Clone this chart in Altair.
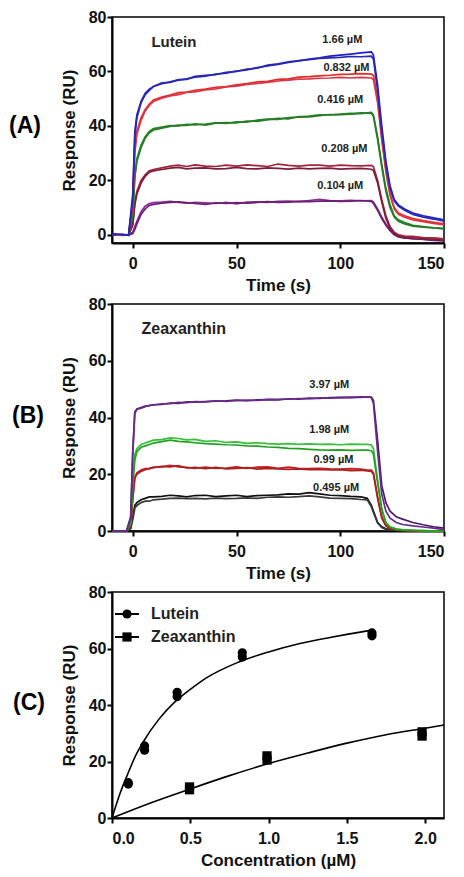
import altair as alt
import pandas as pd

# ---------------- Panel A : Lutein sensorgrams ----------------
T_A = [-10, -5, -2, 0, 1, 2, 4, 6, 8, 10, 14, 18, 22, 26, 30, 35, 40, 45, 50, 55,
       60, 65, 70, 75, 80, 85, 90, 95, 100, 105, 110, 115, 116, 118, 120, 122, 124,
       126, 128, 131, 135, 140, 145, 150]

lut_166_a = [0.5, 0, 0, 15, 38, 44, 49, 52, 53.5, 54.5, 55.5, 56.2, 56.8, 57.3, 57.9,
             58.3, 59, 59.4, 60.1, 60.6, 61.4, 62, 62.6, 63.3, 63.9,
             64.5, 65, 65.6, 66, 66.4, 66.8, 67.2, 66, 55, 40, 27, 18, 13, 11, 9.5,
             8, 7, 6.2, 5.5]
lut_166_b = [0, 0.3, -0.2, 13, 36, 43, 48.5, 51.5, 53, 54.5, 55.8, 56, 57, 57.1, 58.2,
             58.6, 58.8, 59.7, 60, 60.9, 61.2, 62.3, 62.8, 63.5, 64,
             64.3, 64.8, 65, 65.2, 65.5, 65.4, 65.6, 64.5, 53, 38, 26, 17, 12.5, 10.5, 9,
             7.5, 6.5, 5.8, 5]
lut_0832_a = [0, 0, 0, 12, 32, 38, 43, 46, 48, 49.5, 50.6, 51.3, 52.2, 52.4, 53.1,
              53.5, 54.2, 54.4, 55.1, 55.5, 56.2, 56.4, 57.1, 57.3, 57.9,
              58.1, 58.4, 58.6, 58.9, 59, 59.2, 59, 58.5, 50, 36, 24, 15, 10, 8, 7,
              6, 5.2, 4.6, 4]
lut_0832_b = [0.2, -0.2, 0, 11, 30, 37, 42, 45.5, 47.5, 49, 50.2, 51, 51.5, 52.3, 52.5,
              53.2, 53.6, 54.3, 54.6, 55.2, 55.6, 56, 56.5, 56.8, 57.2,
              57.3, 57.5, 57.6, 57.8, 57.6, 57.8, 57.6, 57, 48.5, 35, 23, 14.5, 9.5, 7.5, 6.5,
              5.5, 4.8, 4.2, 3.6]
lut_0416_a = [0, 0, 0, 8, 22, 28, 33, 36, 38, 39, 39.6, 40.1, 40, 40.6, 40.4,
              40.7, 41.1, 40.9, 41.5, 41.4, 42.1, 42.5, 42.4, 43.1, 43.2,
              43.6, 44.1, 44, 44.3, 44.6, 44.5, 45, 44, 36, 26, 17, 11, 7, 5.5, 4.5,
              3.5, 3, 2.6, 2.4]
lut_0416_b = [0, 0, 0, 7, 21, 27, 32, 35.5, 37.5, 38.5, 39.2, 39.8, 40.3, 40.2, 40.8,
              40.3, 41, 41.2, 41.1, 41.8, 41.7, 42.3, 42.8, 42.6, 43.4,
              43.3, 43.8, 44.2, 44.1, 44.3, 44.8, 44.6, 43.5, 35, 25, 16, 10, 6.5, 5, 4,
              3.2, 2.8, 2.5, 2.2]
lut_0208_a = [0, 0, 0, 4, 12, 16, 20, 22, 23.5, 24, 24.6, 25.2, 25.6, 25.1, 25.7,
              25.2, 25.1, 25.6, 25.2, 25.7, 25.4, 25.1, 26, 25.5, 25.2,
              25.6, 25.6, 25.2, 25.6, 25.4, 25.3, 25.5, 25, 20, 13, 7, 3, 1, 0, -0.5,
              -0.6, -1, -1.1, -1.5]
lut_0208_b = [0, 0, 0, 3.5, 11, 15, 19, 21.5, 23, 23.5, 24, 24.5, 24.8, 24.2, 24.5,
              24.6, 24.2, 24.3, 24.8, 24.3, 24.2, 24.6, 24.4, 24.1, 24.5,
              24.2, 24.4, 24.5, 24.1, 24.3, 24.4, 24.1, 23.6, 19, 12, 6, 2.5, 0.5, -0.5, -1,
              -1.2, -1.5, -1.7, -2]
lut_0104_a = [0, 0, 0, 1, 3, 5, 8.5, 10.5, 11.5, 11.8, 12, 12.3, 11.9, 11.6, 11.9,
              11.7, 11.5, 11.9, 11.4, 12, 12.1, 11.9, 12.3, 12.4, 12.2,
              12.6, 13, 12.6, 12.5, 12.7, 12.5, 12.6, 12, 9.5, 6.5, 4, 2, 0.5, -0.5, -1,
              -1.5, -1.6, -1.9, -2]
lut_0104_b = [0, 0, 0, 0.5, 2, 4, 7.5, 9.5, 10.8, 11.2, 11.6, 11.9, 12.1, 11.8, 11.5,
              11.2, 11.7, 11.5, 11.8, 11.6, 11.9, 12.2, 11.9, 12, 12.3,
              12.2, 12.4, 12.5, 12.3, 12.4, 12.6, 12.3, 11.5, 9, 6, 3.5, 1.5, 0, -0.8, -1.2,
              -1.3, -1.7, -2, -2.2]

traces_A = ["A 0.104a", "A 0.104b", "A 0.208a", "A 0.208b", "A 0.416a", "A 0.416b",
            "A 0.832a", "A 0.832b", "A 1.66a", "A 1.66b"]
series_A = [lut_0104_a, lut_0104_b, lut_0208_a, lut_0208_b, lut_0416_a, lut_0416_b,
            lut_0832_a, lut_0832_b, lut_166_a, lut_166_b]
colors_A = ["#8b2a9a", "#6a1f70", "#a8203f", "#7a1f3a", "#178a22", "#2a7a2a",
            "#e62a22", "#d9364a", "#1c1fd1", "#2a2ab0"]

labels_A = ["1.66 µM", "0.832 µM", "0.416 µM", "0.208 µM", "0.104 µM"]
label_t_A = [101, 103, 100, 102, 100]
label_y_A = [71.5, 61.3, 49.6, 31.7, 17.9]

# ---------------- Panel B : Zeaxanthin sensorgrams ----------------
T_B = [-10, -5, -3, -1, 0, 1, 2, 4, 6, 8, 10, 14, 18, 22, 26, 30, 35, 40, 45, 50,
       55, 60, 65, 70, 75, 80, 85, 90, 95, 100, 105, 110, 113, 115, 116, 118, 120,
       122, 124, 127, 130, 135, 140, 145, 150]

zea_397_a = [0, 0, 0, 5, 28, 42, 43, 43.5, 44, 44.2, 44.5, 44.6, 45.1, 45, 45.5, 45.4,
             45.6, 45.8, 45.9, 46.1, 45.9, 46.2, 46.3, 46.2, 46.6, 46.5,
             46.8, 46.7, 47, 47.1, 47, 47.3, 47.2, 47.2, 46, 32, 16, 10, 7, 5, 4.2,
             3, 2.2, 1.5, 1]
zea_397_b = [0, 0, 0, 4.5, 27, 41.5, 42.8, 43.3, 43.8, 44.3, 44.4, 44.8, 44.9, 45.3, 45.2, 45.6,
             45.5, 45.9, 45.7, 46, 46.1, 46, 46.4, 46.4, 46.5, 46.7,
             46.6, 46.9, 46.8, 47, 47.2, 47.1, 47.3, 47, 45, 28, 13, 7, 4.5, 3, 2.3,
             1.8, 1.4, 1, 0.5]
zea_198_a = [0, 0, 0, 3, 18, 27, 29, 30.5, 31, 31.5, 32, 32.2, 32.8, 32.6, 32.1, 32.3,
             31.6, 31.8, 31.2, 31.4, 30.9, 31.1, 30.8, 30.6, 30.8, 30.5,
             30.7, 30.5, 30.6, 30.4, 30.6, 30.5, 30.5, 30.3, 29, 18, 8, 3, 1.5, 0.8, 0.5,
             0.3, 0.2, 0, 0]
zea_198_b = [0, 0, 0, 2.5, 16, 25, 28, 29.5, 30, 30.5, 31, 31.5, 32, 31.6, 31.4, 31.1,
             30.8, 30.6, 30.4, 30.3, 30, 29.9, 29.6, 29.5, 29.1, 29,
             28.8, 28.6, 28.5, 28.6, 28.4, 28.5, 28.5, 28.3, 27, 17, 7.5, 2.8, 1.3, 0.6, 0.3,
             0.2, 0, 0, 0]
zea_099_a = [0, 0, 0, 2, 12, 19, 20.5, 21.5, 22, 22.1, 22.5, 22.6, 23.1, 22.6, 22.4, 22.1,
             22.5, 22.1, 22.2, 22.6, 22.1, 22.5, 22.6, 22.1, 22.5, 22.1,
             22, 22.1, 21.9, 21.8, 22, 21.8, 21.5, 21.5, 20.5, 12, 5, 2, 1, 0.5, 0.3,
             0, 0, 0, 0]
zea_099_b = [0, 0, 0, 1.8, 11, 18.5, 20, 21, 21.6, 22, 22.3, 22.8, 22.6, 23, 22.2, 22.4,
             22, 22.4, 21.9, 22.1, 22.3, 21.8, 22.1, 21.9, 21.7, 21.9,
             21.6, 21.7, 21.5, 21.6, 21.3, 21.4, 21.2, 21, 20, 11.5, 4.5, 1.8, 0.8, 0.4, 0.2,
             0, 0, 0, 0]
zea_0495_a = [0, 0, 0, 1, 5, 9, 10, 11, 11.5, 12, 12, 12.2, 12.6, 12.4, 12, 12.5,
              12.6, 12.1, 12.4, 12.6, 12.1, 12.5, 12.6, 12.7, 13.1, 13,
              13.5, 13.1, 12.6, 12.5, 12.2, 12, 11.5, 9, 7, 3, 1.5, 0.8, 0.5, 0.3, 0.2,
              0, 0, 0, 0]
zea_0495_b = [0, 0, 0, 0.8, 4, 8, 9, 10, 10.5, 10.5, 11, 11.2, 11.5, 11.6, 11.4, 11.5,
              11.3, 11.6, 11.4, 11.5, 11.7, 11.5, 11.9, 12, 11.9, 12.1,
              12.4, 12, 11.6, 11.5, 11.4, 11.1, 11, 8.5, 6.5, 2.8, 1.2, 0.6, 0.4, 0.2, 0.1,
              0, 0, 0, 0]

traces_B = ["B 0.495a", "B 0.495b", "B 0.99a", "B 0.99b", "B 1.98a", "B 1.98b",
            "B 3.97a", "B 3.97b"]
series_B = [zea_0495_a, zea_0495_b, zea_099_a, zea_099_b, zea_198_a, zea_198_b,
            zea_397_a, zea_397_b]
colors_B = ["#111111", "#3a3a3a", "#c81e1e", "#a82020", "#35c035", "#22a022",
            "#4a1a6e", "#6a2a8a"]

labels_B = ["3.97 µM", "1.98 µM", "0.99 µM", "0.495 µM"]
label_t_B = [94.7, 94.7, 96.7, 98]
label_y_B = [51.3, 35.5, 25, 15.2]

# ---------------- Panel C : dose response ----------------
lut_conc = [0.104, 0.104, 0.208, 0.208, 0.416, 0.416, 0.832, 0.832, 1.66, 1.66]
lut_resp = [12, 12.5, 24, 25.5, 43, 44.5, 57, 58.5, 64.5, 65.5]
zea_conc = [0.495, 0.495, 0.99, 0.99, 1.98, 1.98]
zea_resp = [10, 11, 20.5, 22, 29, 30.5]

lut_fit_x = [0, 0.05, 0.1, 0.15, 0.2, 0.3, 0.4, 0.5, 0.6, 0.8, 1.0, 1.2, 1.4, 1.5, 1.66]
lut_fit_y = [0, 8.5, 15.5, 22, 27, 35, 41, 45.5, 49.5, 55, 58.8, 61.8, 64, 65, 66.5]
zea_fit_x = [0, 0.25, 0.5, 0.75, 1.0, 1.25, 1.5, 1.75, 2.0, 2.12]
zea_fit_y = [0, 5.4, 10.3, 15, 19.3, 23, 26.5, 29.5, 31.8, 32.9]

legend_labels = ["Lutein", "Zeaxanthin"]

# ---------------- build tables ----------------
def long_table(times, names, series):
    rows = []
    for name, vals in zip(names, series):
        assert len(vals) == len(times), (name, len(vals), len(times))
        for t, v in zip(times, vals):
            rows.append({"t": t, "r": v, "trace": name})
    return pd.DataFrame(rows)

dfA = long_table(T_A, traces_A, series_A)
dfB = long_table(T_B, traces_B, series_B)

FONT = "Liberation Sans"
W = 332

def sensorgram(df, names, colors, ydom, h, labels, lt, ly, compound, comp_t, comp_y,
               comp_size, tag, tag_x, tag_y):
    base = alt.Chart(df)
    lines = base.mark_line(strokeWidth=1.7).encode(
        x=alt.X("t:Q", scale=alt.Scale(domain=[-10, 150], nice=False, zero=False),
                axis=alt.Axis(values=[0, 50, 100, 150], title="Time (s)")),
        y=alt.Y("r:Q", scale=alt.Scale(domain=ydom, nice=False, zero=False),
                axis=alt.Axis(values=[0, 20, 40, 60, 80], title="Response (RU)",
                              labelPadding=1, titlePadding=10)),
        color=alt.Color("trace:N", scale=alt.Scale(domain=names, range=colors), legend=None),
        order=alt.Order("t:Q"),
    )
    lab_df = pd.DataFrame({"label": labels, "t": lt, "r": ly})
    labs = alt.Chart(lab_df).mark_text(font=FONT, fontSize=11, fontWeight="bold",
                                       color="#222222", align="center", baseline="middle").encode(
        x="t:Q", y="r:Q", text="label:N")
    comp_df = pd.DataFrame({"label": [compound], "t": [comp_t], "r": [comp_y]})
    comp = alt.Chart(comp_df).mark_text(font=FONT, fontSize=comp_size, fontWeight="bold",
                                        color="#222222", align="left", baseline="middle").encode(
        x="t:Q", y="r:Q", text="label:N")
    tag_df = pd.DataFrame({"label": [tag]})
    tagm = alt.Chart(tag_df).mark_text(font=FONT, fontSize=23, fontWeight="bold",
                                       color="black", align="left", baseline="middle").encode(
        x=alt.value(tag_x), y=alt.value(tag_y), text="label:N")
    return alt.layer(lines, labs, comp, tagm).properties(width=W, height=h)

panelA = sensorgram(dfA, traces_A, colors_A, [-3, 80], 226, labels_A, label_t_A, label_y_A,
                    "Lutein", 9, 71, 15, "(A)", -103, 109)
panelB = sensorgram(dfB, traces_B, colors_B, [0, 80], 227, labels_B, label_t_B, label_y_B,
                    "Zeaxanthin", 4.2, 71.2, 16, "(B)", -100, 112)

# Panel C
pts = pd.DataFrame({
    "c": lut_conc + zea_conc,
    "r": lut_resp + zea_resp,
    "cmp": ["Lutein"] * len(lut_conc) + ["Zeaxanthin"] * len(zea_conc),
})
fit = pd.DataFrame({
    "c": lut_fit_x + zea_fit_x,
    "r": lut_fit_y + zea_fit_y,
    "cmp": ["Lutein"] * len(lut_fit_x) + ["Zeaxanthin"] * len(zea_fit_x),
})
xC = alt.X("c:Q", scale=alt.Scale(domain=[0, 2.12], nice=False, zero=False),
           axis=alt.Axis(values=[0, 0.5, 1.0, 1.5, 2.0], format=".1f",
                         title="Concentration (µM)"))
yC = alt.Y("r:Q", scale=alt.Scale(domain=[0, 80], nice=False),
           axis=alt.Axis(values=[0, 20, 40, 60, 80], title="Response (RU)",
                         labelPadding=1, titlePadding=10))
fit_lines = alt.Chart(fit).mark_line(color="black", strokeWidth=1.6, interpolate="monotone").encode(
    x=xC, y=yC, detail="cmp:N", order=alt.Order("c:Q"))
points = alt.Chart(pts).mark_point(filled=True, color="black", opacity=1, size=85).encode(
    x=xC, y=yC,
    shape=alt.Shape("cmp:N", scale=alt.Scale(domain=legend_labels, range=["circle", "square"]),
                    legend=None))

leg_layers = []
leg_y = [22, 45]
leg_shapes = ["circle", "square"]
for lab, yy, shp in zip(legend_labels, leg_y, leg_shapes):
    ldf = pd.DataFrame({"label": [lab]})
    leg_layers.append(alt.Chart(ldf).mark_rule(color="black", strokeWidth=2).encode(
        x=alt.value(3), x2=alt.value(27), y=alt.value(yy)))
    leg_layers.append(alt.Chart(ldf).mark_point(shape=shp, filled=True, color="black",
                                                opacity=1, size=85).encode(
        x=alt.value(15), y=alt.value(yy)))
    leg_layers.append(alt.Chart(ldf).mark_text(font=FONT, fontSize=16, fontWeight="bold",
                                               color="#222222", align="left",
                                               baseline="middle").encode(
        x=alt.value(39), y=alt.value(yy), text="label:N"))

tagC = alt.Chart(pd.DataFrame({"label": ["(C)"]})).mark_text(
    font=FONT, fontSize=23, fontWeight="bold", color="black", align="left",
    baseline="middle").encode(x=alt.value(-99), y=alt.value(111), text="label:N")

panelC = alt.layer(fit_lines, points, *leg_layers, tagC).properties(width=W, height=226)

chart = alt.vconcat(panelA, panelB, panelC, spacing=1).resolve_scale(
    color="independent", shape="independent"
).properties(
    padding=0, background="white"
).configure_view(
    stroke="black", strokeWidth=1.5
).configure_axis(
    grid=False,
    labelFont=FONT, labelFontSize=16, labelFontWeight="bold", labelColor="#111111",
    titleFont=FONT, titleFontSize=17, titleFontWeight="bold", titleColor="#111111",
    domainColor="black", domainWidth=2, tickColor="black", tickWidth=2, tickSize=5,
).configure_axisX(
    labelPadding=7, titlePadding=6
)

chart.save("out.html", embed_options={"renderer": "svg", "actions": False})
